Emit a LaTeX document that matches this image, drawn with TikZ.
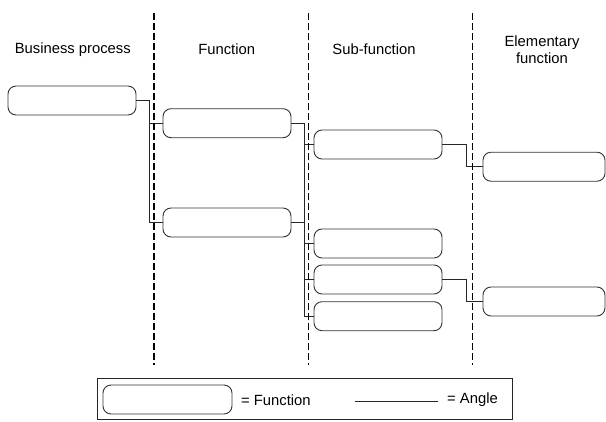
\documentclass[tikz,border=0pt]{standalone}
\usepackage{fontspec}
\setmainfont{Liberation Sans}
\begin{document}
\begin{tikzpicture}[x=1pt,y=-1pt,
  fbox/.style={draw=black!80,line width=0.9pt,rounded corners=8pt,minimum width=128pt,minimum height=29pt,inner sep=0pt},
  conn/.style={draw=black!85,line width=0.9pt},
  sep/.style={draw=black,line width=1.9pt,dash pattern=on 6.5pt off 3.5pt},
  lbl/.style={font=\fontsize{14.8}{17.5}\selectfont,inner sep=0pt,align=center}]
\useasboundingbox (0,0) rectangle (606,421);
% headers
\node[lbl] (h1) at (72.8,49.3) {Business process};
\node[lbl] (h2) at (226.7,49.3) {Function};
\node[lbl] (h3) at (374,49.3) {Sub-function};
\node[lbl] (h4) at (542,49.5) {Elementary\\function};
% separators
\coordinate (d1t) at (154.3,13); \coordinate (d1b) at (154.3,365);
\coordinate (d2t) at (308.5,13); \coordinate (d2b) at (308.5,365);
\coordinate (d3t) at (472.5,13); \coordinate (d3b) at (472.5,365);
% boxes
\node[fbox] (bp) at (72,100.5) {};
\node[fbox] (f1) at (227,123.2) {};
\node[fbox] (f2) at (227,222.5) {};
\node[fbox] (s1) at (378,144.5) {};
\node[fbox] (s2) at (378,243.5) {};
\node[fbox] (s3) at (378,279.5) {};
\node[fbox] (s4) at (378,316.2) {};
\node[fbox,minimum width=122pt] (e1) at (544,166.7) {};
\node[fbox,minimum width=122pt] (e2) at (544,301.5) {};
% bus coordinates
\coordinate (b1) at (149,0);
\coordinate (b2) at (304,0);
\coordinate (b3) at (466,0);
% connectors
\draw[conn] (bp.east) -| (b1 |- f2.west) -- (f2.west);
\draw[conn] (b1 |- f1.west) -- (f1.west);
\draw[conn] (f1.east) -| (b2 |- s4.west) -- (s4.west);
\draw[conn] (f2.east) -- (b2 |- f2.east);
\draw[conn] (b2 |- s1.west) -- (s1.west);
\draw[conn] (b2 |- s2.west) -- (s2.west);
\draw[conn] (b2 |- s3.west) -- (s3.west);
\draw[conn] (s1.east) -| (b3 |- e1.west) -- (e1.west);
\draw[conn] (s3.east) -| (b3 |- e2.west) -- (e2.west);
% dashed separators on top
\draw[sep] (d1t) -- (d1b);
\draw[sep] (d2t) -- (d2b);
\draw[sep] (d3t) -- (d3b);
% legend
\node[draw=black!85,line width=0.9pt,minimum width=415pt,minimum height=41.5pt,inner sep=0pt] (leg) at (304.5,398.7) {};
\node[fbox,minimum width=129pt] (lf) at (167.5,399.5) {};
\node[lbl,anchor=west] (lft) at (241,400) {= Function};
\coordinate (la) at (355,401);
\coordinate (lb) at (438,401);
\draw[conn] (la) -- (lb);
\node[lbl,anchor=west] (lat) at (447,400) {= Angle};
\end{tikzpicture}
\end{document}
